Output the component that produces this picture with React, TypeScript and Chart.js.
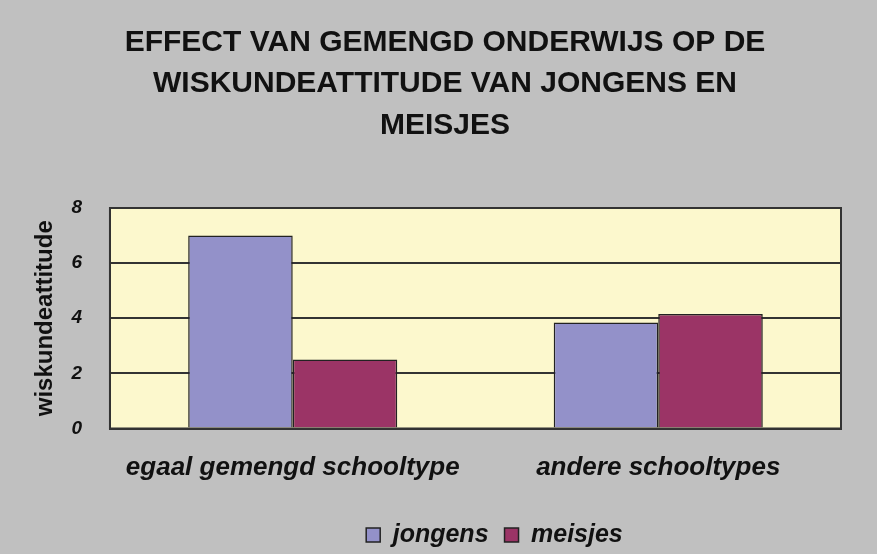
import React, { useEffect, useRef } from "react";
import { Chart, registerables } from "chart.js";

Chart.register(...registerables);

const categories: string[] = ["egaal gemengd schooltype", "andere schooltypes"];
const jongens: number[] = [7.0, 3.85];
const meisjes: number[] = [2.5, 4.15];
const seriesNames: string[] = ["jongens", "meisjes"];
const titleLines: string[] = [
  "EFFECT VAN GEMENGD ONDERWIJS OP DE",
  "WISKUNDEATTITUDE VAN JONGENS EN",
  "MEISJES",
];
const yTitle = "wiskundeattitude";
const yMin = 0;
const yMax = 8;
const yStep = 2;

const FONT = "'Liberation Sans', Arial, sans-serif";

const plotFrame = {
  id: "plotFrame",
  beforeDraw(chart: any) {
    const { ctx, chartArea } = chart;
    ctx.save();
    ctx.fillStyle = "#c0c0c0";
    ctx.fillRect(0, 0, chart.width, chart.height);
    ctx.fillStyle = "#fcf8cd";
    ctx.fillRect(chartArea.left, chartArea.top, chartArea.right - chartArea.left, chartArea.bottom - chartArea.top);
    ctx.restore();
  },
  afterDatasetsDraw(chart: any) {
    const { ctx, chartArea } = chart;
    ctx.save();
    ctx.strokeStyle = "#333333";
    ctx.lineWidth = 2;
    ctx.strokeRect(chartArea.left, chartArea.top, chartArea.right - chartArea.left, chartArea.bottom - chartArea.top);
    ctx.restore();
  },
};

const legendShift = {
  id: "legendShift",
  afterLayout(chart: any) {
    if (chart.legend) {
      chart.legend.left += 19;
      chart.legend.right += 19;
    }
  },
};

export default function App() {
  const ref = useRef<HTMLCanvasElement | null>(null);

  useEffect(() => {
    document.body.style.margin = "0";
    const canvas = ref.current;
    if (!canvas) return;
    const chart = new Chart(canvas, {
      type: "bar",
      data: {
        labels: categories,
        datasets: [
          {
            label: seriesNames[0],
            data: jongens,
            backgroundColor: "#9391c9",
            borderColor: "#222222",
            borderWidth: 1.5,
            categoryPercentage: 0.572,
            barPercentage: 1.0,
          },
          {
            label: seriesNames[1],
            data: meisjes,
            backgroundColor: "#9b3466",
            borderColor: "#222222",
            borderWidth: 1.5,
            categoryPercentage: 0.572,
            barPercentage: 1.0,
          },
        ],
      },
      options: {
        responsive: false,
        animation: false,
        devicePixelRatio: 1,
        layout: { padding: { left: 49, right: 36, top: 0, bottom: -3.5 } },
        plugins: {
          tooltip: { enabled: false },
          title: {
            display: true,
            text: titleLines,
            color: "#111111",
            font: { family: FONT, size: 30, weight: "bold", lineHeight: "41.5px" },
            padding: { top: 21.5, bottom: 62 },
          },
          legend: {
            display: true,
            position: "bottom",
            fullSize: false,
            labels: {
              color: "#111111",
              font: { family: FONT, size: 25, weight: "bold", style: "italic" },
              boxWidth: 14,
              boxHeight: 14,
              padding: 16,
            },
          },
        },
        scales: {
          x: {
            grid: { display: false, drawTicks: false },
            border: { display: true, color: "#333333", width: 2 },
            ticks: {
              color: "#111111",
              padding: 0.5,
              font: { family: FONT, size: 26, weight: "bold", style: "italic", lineHeight: "77px" },
            },
          },
          y: {
            min: yMin,
            max: yMax,
            ticks: {
              stepSize: yStep,
              color: "#111111",
              padding: 28,
              font: { family: FONT, size: 19, weight: "bold", style: "italic" },
            },
            grid: { color: "#333333", lineWidth: 2, drawTicks: false },
            border: { display: true, color: "#333333", width: 2 },
            title: {
              display: true,
              text: yTitle,
              color: "#111111",
              font: { family: FONT, size: 24, weight: "bold", lineHeight: "22px" },
              padding: { top: -15, bottom: -12.6 },
            },
          },
        },
      },
      plugins: [plotFrame, legendShift],
    });
    return () => chart.destroy();
  }, []);

  return (
    <div style={{ position: "absolute", left: 0, top: 0, width: 877, height: 554, background: "#c0c0c0" }}>
      <canvas ref={ref} width={877} height={554} style={{ display: "block" }} />
    </div>
  );
}
